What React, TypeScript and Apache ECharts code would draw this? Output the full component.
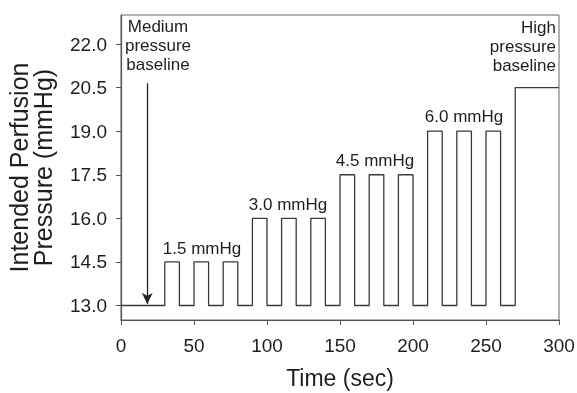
import React, { useEffect, useRef } from "react";
import * as echarts from "echarts";

const timeSec = [0, 30, 40, 50, 60, 70, 80, 90, 100, 110, 120, 130, 140, 150, 160, 170, 180, 190, 200, 210, 220, 230, 240, 250, 260, 270, 300];
const pressure = [13, 14.5, 13, 14.5, 13, 14.5, 13, 16, 13, 16, 13, 16, 13, 17.5, 13, 17.5, 13, 17.5, 13, 19, 13, 19, 13, 19, 13, 20.5, 20.5];
const yTicks = [13, 14.5, 16, 17.5, 19, 20.5, 22];
const arrowX = 18;
const arrowFrom = 20.65;
const arrowTo = 13.05;
const stepLabels = ["1.5 mmHg", "3.0 mmHg", "4.5 mmHg", "6.0 mmHg"];
const baselineLabels = ["Medium\npressure\nbaseline", "High\npressure\nbaseline"];

const FONT = "'Liberation Sans', Arial, Helvetica, sans-serif";
const TXT = "#1e1e1e";

export default function App() {
  const ref = useRef<HTMLDivElement>(null);
  useEffect(() => {
    if (!ref.current) return;
    const chart = echarts.init(ref.current, undefined, { renderer: "svg" });
    const pts: number[][] = [];
    for (let i = 0; i < timeSec.length - 1; i++) {
      pts.push([timeSec[i], pressure[i]]);
      pts.push([timeSec[i + 1], pressure[i]]);
    }
    const labelPos = [
      [202, 248],
      [288, 204],
      [375, 160],
      [464, 116],
    ];
    chart.setOption({
      animation: false,
      grid: {
        left: 121,
        right: 18,
        top: 15,
        bottom: 73,
        show: true,
        borderColor: "#666",
        borderWidth: 1,
        outerBoundsMode: "none",
        containLabel: false,
      },
      xAxis: {
        type: "value",
        min: 0,
        max: 300,
        interval: 50,
        name: "Time (sec)",
        nameLocation: "middle",
        nameGap: 46,
        nameTextStyle: { fontFamily: FONT, fontSize: 23, color: TXT },
        axisLine: { show: true, lineStyle: { color: "#555", width: 1.2 } },
        axisTick: { show: true, length: 5, lineStyle: { color: "#555" } },
        axisLabel: { fontFamily: FONT, fontSize: 19, color: TXT, margin: 16 },
        splitLine: { show: false },
      },
      yAxis: {
        type: "value",
        min: 12.5,
        max: 23,
        name: "Intended Perfusion\nPressure (mmHg)",
        nameLocation: "middle",
        nameGap: 66,
        nameTextStyle: { fontFamily: FONT, fontSize: 25, color: TXT, lineHeight: 24 },
        axisLine: { show: true, lineStyle: { color: "#555", width: 1.2 } },
        axisTick: { show: true, length: 5, customValues: yTicks, lineStyle: { color: "#555" } },
        axisLabel: {
          fontFamily: FONT,
          fontSize: 19,
          color: TXT,
          margin: 14,
          customValues: yTicks,
          formatter: (v: number) => v.toFixed(1),
        },
        splitLine: { show: false },
      },
      graphic: [
        {
          type: "text",
          x: 158,
          y: 17,
          style: {
            text: baselineLabels[0],
            fontFamily: FONT,
            fontSize: 17,
            lineHeight: 19,
            fill: TXT,
            textAlign: "center",
          },
        },
        {
          type: "text",
          x: 556,
          y: 18,
          style: {
            text: baselineLabels[1],
            fontFamily: FONT,
            fontSize: 17,
            lineHeight: 19,
            fill: TXT,
            textAlign: "right",
          },
        },
        ...stepLabels.map((t, i) => ({
          type: "text",
          x: labelPos[i][0],
          y: labelPos[i][1],
          style: {
            text: t,
            fontFamily: FONT,
            fontSize: 17,
            fill: TXT,
            textAlign: "center",
            textVerticalAlign: "middle",
          },
        })),
      ],
      series: [
        {
          type: "line",
          data: pts,
          showSymbol: false,
          symbol: "none",
          lineStyle: { color: "#3a3a3a", width: 1.3 },
          markLine: {
            silent: true,
            symbol: ["none", "arrow"],
            symbolSize: [8, 11],
            label: { show: false },
            lineStyle: { color: "#222", width: 1.3, type: "solid" },
            data: [[{ coord: [arrowX, arrowFrom] }, { coord: [arrowX, arrowTo] }]],
          },
        },
      ],
    });
    return () => chart.dispose();
  }, []);
  return (
    <div
      ref={ref}
      style={{ position: "fixed", left: 0, top: 0, width: 577, height: 393 }}
    />
  );
}
